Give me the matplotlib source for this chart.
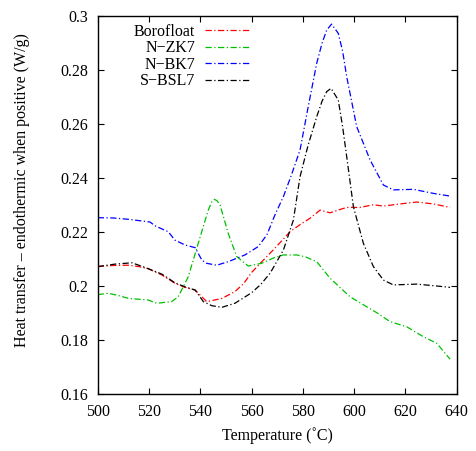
import matplotlib
matplotlib.use('Agg')
import matplotlib.pyplot as plt

plt.rcParams['font.family'] = ['Liberation Serif', 'DejaVu Serif']

# Borofloat
boro_t = [500, 506, 512, 516, 519.7, 525, 530.1, 534, 538, 540.6, 542.5, 545, 548.4,
          553.5, 557, 560, 564, 569.1, 575, 579, 582.8, 586.7, 590.6, 594, 597.1,
          602.3, 607.5, 611.4, 617.9, 624.4, 630.9, 637.4]
boro_y = [0.2072, 0.2076, 0.2077, 0.2072, 0.2064, 0.2041, 0.2010, 0.1995, 0.1985, 0.1960,
          0.1942, 0.1947, 0.1954, 0.1979, 0.2010, 0.2050, 0.2090, 0.2140, 0.2201, 0.2228,
          0.2251, 0.2281, 0.2271, 0.2282, 0.2291, 0.2291, 0.2301, 0.2296, 0.2304, 0.2311,
          0.2304, 0.2291]

# N-ZK7
zk7_t = [500, 504.1, 508, 512, 519.7, 523, 528.8, 531.4, 535.3, 539.2, 543.1, 544.5,
         545.5, 546.5, 547.7, 550.9, 554.2, 558.7, 563.9, 569.1, 572.4, 577.6, 581,
         585.4, 590.6, 598.4, 604.9, 609, 614, 620.5, 627, 632.2, 637.4]
zk7_y = [0.1968, 0.1973, 0.1965, 0.1954, 0.1948, 0.1936, 0.1942, 0.1960, 0.2034, 0.2158,
         0.2281, 0.2312, 0.2321, 0.2316, 0.2300, 0.2195, 0.2109, 0.2074, 0.2084, 0.2106,
         0.2115, 0.2115, 0.2108, 0.2090, 0.2029, 0.1960, 0.1923, 0.1900, 0.1868, 0.1849,
         0.1812, 0.1788, 0.1729]

# N-BK7
bk7_t = [500, 506, 512, 520.4, 522.3, 527.5, 530.1, 534, 538, 540.6, 542.5, 546.4,
         550.9, 557.4, 562.6, 566, 569.1, 572.4, 575.5, 578.9, 582, 585.4, 587.5, 589.3,
         591.2, 593.8, 595.5, 597.1, 601, 606.2, 611.4, 615.3, 623.1, 630.9, 637.4]
bk7_y = [0.2253, 0.2252, 0.2247, 0.2237, 0.2223, 0.2201, 0.2170, 0.2152, 0.2142, 0.2096,
         0.2084, 0.2077, 0.2090, 0.2115, 0.2146, 0.2190, 0.2263, 0.2331, 0.2410, 0.2504,
         0.2660, 0.2825, 0.2900, 0.2948, 0.2970, 0.2936, 0.2870, 0.2775, 0.2590, 0.2467,
         0.2374, 0.2356, 0.2358, 0.2343, 0.2333]

# S-BSL7
bsl7_t = [500, 506.7, 513.3, 518.4, 525, 530.1, 534, 538, 541.2, 544.5, 548.4, 553.5,
          560, 563.5, 567.2, 572.4, 576.3, 578.9, 582, 585.4, 587.5, 589.3, 591, 593.8,
          595.5, 597.1, 599.7, 603.6, 607.5, 611.4, 615.3, 624.4, 632.2, 637.4]
bsl7_y = [0.2072, 0.2081, 0.2086, 0.2069, 0.2044, 0.2012, 0.1997, 0.1985, 0.1942, 0.1927,
          0.1921, 0.1936, 0.1975, 0.2005, 0.2047, 0.2133, 0.2244, 0.2405, 0.2520, 0.2627,
          0.2685, 0.2720, 0.2732, 0.2689, 0.2590, 0.2479, 0.2294, 0.2158, 0.2072, 0.2022,
          0.2004, 0.2007, 0.2000, 0.1995]

labels = ['Borofloat', 'N\u2212ZK7', 'N\u2212BK7', 'S\u2212BSL7']
colors = ['#ff0000', '#00c000', '#0000ff', '#000000']
x_ticks = [500, 520, 540, 560, 580, 600, 620, 640]
y_ticks = [0.16, 0.18, 0.2, 0.22, 0.24, 0.26, 0.28, 0.3]
y_tick_labels = ['0.16', '0.18', '0.2', '0.22', '0.24', '0.26', '0.28', '0.3']

fig = plt.figure(figsize=(4.76, 4.51), dpi=100)
ax = fig.add_axes([0.2053, 0.1264, 0.7542, 0.8381])

series = [(boro_t, boro_y), (zk7_t, zk7_y), (bk7_t, bk7_y), (bsl7_t, bsl7_y)]
for (t, y), lab, c in zip(series, labels, colors):
    ax.plot(t, y, color=c, lw=0.9, linestyle=(0, (5, 2, 1, 2)), label=lab)

ax.set_xlim(500, 640)
ax.set_ylim(0.16, 0.3)
ax.set_xticks(x_ticks)
ax.set_yticks(y_ticks)
ax.set_yticklabels(y_tick_labels)
ax.tick_params(direction='in', top=True, right=True, length=4, width=0.8,
               labelsize=11.5, pad=7)
for s in ax.spines.values():
    s.set_linewidth(1.0)

ax.set_xlabel('Temperature (\u02daC)', fontsize=11.5, labelpad=5)
ax.set_ylabel('Heat transfer \u2013 endothermic when positive (W/g)', fontsize=11.5)
ax.yaxis.set_label_coords(-0.19, 0.54)

leg = ax.legend(loc='upper left', bbox_to_anchor=(0.101, 0.98), frameon=False,
                markerfirst=False, fontsize=11.5, handlelength=2.9,
                handletextpad=0.6, labelspacing=0.04, borderpad=0, borderaxespad=0)

fig.savefig('out.png', dpi=100)
